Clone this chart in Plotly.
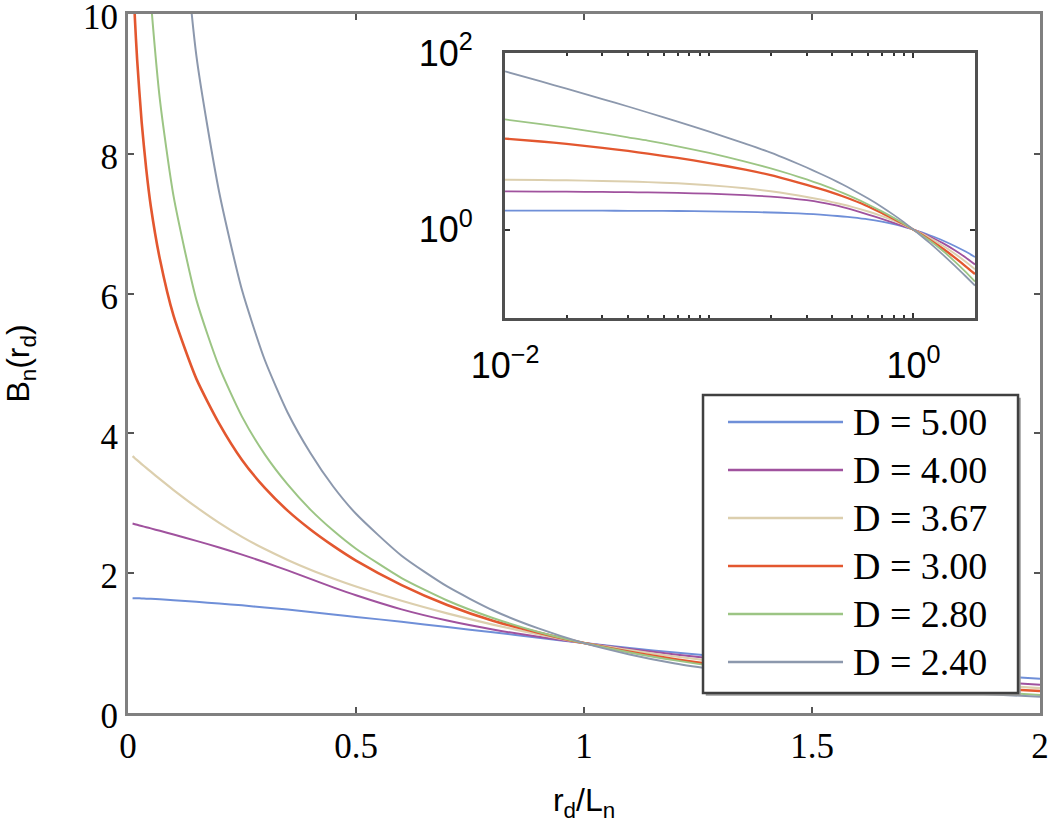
import plotly.graph_objects as go

# r_d / L_n sample points (shared by main plot and log-log inset)
r = [0.01, 0.015, 0.02, 0.03, 0.04, 0.05, 0.07, 0.1, 0.15, 0.2, 0.25, 0.3, 0.35,
     0.4, 0.45, 0.5, 0.6, 0.7, 0.8, 0.9, 1.0, 1.1, 1.2, 1.4, 1.6, 1.8, 2.0]

# B_n(r_d)
b_500 = [1.643, 1.642, 1.641, 1.639, 1.636, 1.633, 1.626, 1.613, 1.59, 1.565, 1.54, 1.51, 1.48,
         1.445, 1.41, 1.375, 1.305, 1.23, 1.155, 1.078, 1.0, 0.93, 0.865, 0.75, 0.65, 0.565, 0.49]
b_400 = [2.71, 2.701, 2.692, 2.675, 2.658, 2.641, 2.606, 2.553, 2.463, 2.368, 2.266, 2.156, 2.04,
         1.918, 1.798, 1.684, 1.482, 1.322, 1.195, 1.09, 1.0, 0.916, 0.838, 0.699, 0.581, 0.484, 0.404]
b_367 = [3.675, 3.645, 3.617, 3.561, 3.506, 3.452, 3.345, 3.19, 2.945, 2.72, 2.52, 2.345, 2.19,
         2.05, 1.925, 1.81, 1.605, 1.425, 1.265, 1.125, 1.0, 0.899, 0.808, 0.653, 0.531, 0.433, 0.356]
b_300 = [10.75, 9.95, 9.35, 8.45, 7.78, 7.25, 6.49, 5.68, 4.78, 4.14, 3.62, 3.22, 2.895,
         2.625, 2.39, 2.18, 1.83, 1.545, 1.32, 1.15, 1.0, 0.875, 0.769, 0.603, 0.479, 0.385, 0.314]
b_280 = [17.7, 15.7, 14.3, 12.4, 11.1, 10.2, 8.77, 7.39, 5.91, 4.95, 4.24, 3.70, 3.27,
         2.91, 2.61, 2.35, 1.93, 1.61, 1.36, 1.16, 1.0, 0.867, 0.753, 0.569, 0.432, 0.332, 0.258]
b_240 = [61.9, 47.6, 39.4, 30.1, 24.8, 21.2, 16.7, 12.9, 9.4, 7.45, 6.05, 5.05, 4.3,
         3.72, 3.24, 2.85, 2.25, 1.81, 1.47, 1.21, 1.0, 0.838, 0.708, 0.516, 0.387, 0.297, 0.233]

labels = ["D = 5.00", "D = 4.00", "D = 3.67", "D = 3.00", "D = 2.80", "D = 2.40"]
series = [b_500, b_400, b_367, b_300, b_280, b_240]
colors = ["#6f8fd8", "#a0529e", "#dccfae", "#e3572f", "#9cc584", "#8c98ad"]
widths = [2, 2, 2.2, 2.6, 2, 2]

fig = go.Figure()

for name, ys, c, w in zip(labels, series, colors, widths):
    fig.add_trace(go.Scatter(x=r, y=ys, mode="lines", name=name,
                             line=dict(color=c, width=w, shape="spline", smoothing=0.6),
                             showlegend=False))
for name, ys, c, w in zip(labels, series, colors, widths):
    fig.add_trace(go.Scatter(x=r, y=ys, mode="lines", name=name,
                             line=dict(color=c, width=w * 0.9, shape="spline", smoothing=0.6),
                             xaxis="x2", yaxis="y2", showlegend=False))

serif = "Liberation Serif"
sans = "Liberation Sans"

fig.update_layout(
    width=1050, height=823,
    margin=dict(l=128, r=10, t=14, b=110),
    paper_bgcolor="white", plot_bgcolor="white",
    font=dict(family=serif, size=32, color="black"),
    xaxis=dict(range=[0, 2], tickvals=[0, 0.5, 1, 1.5, 2],
               ticktext=["0", "0.5", "1", "1.5", "2"], automargin=False,
               ticklabeloverflow="allow",
               showgrid=False, zeroline=False,
               showline=True, linecolor="#808080", linewidth=3, mirror="allticks",
               ticks="inside", ticklen=6, tickcolor="#555", tickwidth=2,
               tickfont=dict(family=serif, size=35),
               title=dict(text="r<sub>d</sub>/L<sub>n</sub>",
                          font=dict(family=sans, size=32), standoff=28)),
    yaxis=dict(range=[0, 10], tickvals=[0, 2, 4, 6, 8, 10], automargin=False,
               ticklabeloverflow="allow", ticklabelshift=3,
               showgrid=False, zeroline=False,
               showline=True, linecolor="#808080", linewidth=3, mirror="allticks",
               ticks="inside", ticklen=6, tickcolor="#555", tickwidth=2,
               tickfont=dict(family=serif, size=35),
               title=dict(text="B<sub>n</sub>(r<sub>d</sub>)",
                          font=dict(family=sans, size=32), standoff=50)),
    xaxis2=dict(type="log", range=[-2, 0.30103], domain=[0.4134, 0.9287], anchor="y2",
                tickvals=[0.01, 1], ticktext=["10<sup>−2</sup>", "10<sup>0</sup>"],
                showgrid=False, zeroline=False, automargin=False,
                showline=True, linecolor="#505050", linewidth=3, mirror="allticks",
                ticks="inside", ticklen=5, tickcolor="#333", tickwidth=2,
                minor=dict(ticks="inside", ticklen=3, tickcolor="#333", dtick="D1"),
                tickfont=dict(family=sans, size=36), ticklabelstandoff=14),
    yaxis2=dict(type="log", range=[-1, 2], domain=[0.5651, 0.9442], anchor="x2",
                tickvals=[1, 100], ticktext=["10<sup>0</sup>", "10<sup>2</sup>"],
                showgrid=False, zeroline=False, automargin=False,
                showline=True, linecolor="#505050", linewidth=3, mirror="allticks",
                ticks="inside", ticklen=5, tickcolor="#333", tickwidth=2,
                tickfont=dict(family=sans, size=36), ticklabelstandoff=22),
)

# legend drawn as a MATLAB-style box with long line samples
box_x0, box_x1, box_y0, box_y1 = 0.6305, 0.9759, 0.0286, 0.4549
line_x0, line_x1, text_x = 0.6579, 0.784, 0.793
row_top, row_step = 0.4163, 0.0687

fig.add_shape(type="rect", xref="paper", yref="paper",
              x0=box_x0 + 0.003, x1=box_x1 + 0.003, y0=box_y0 - 0.004, y1=box_y1 - 0.004,
              line=dict(width=0), fillcolor="#9a9a9a")
fig.add_shape(type="rect", xref="paper", yref="paper",
              x0=box_x0, x1=box_x1, y0=box_y0, y1=box_y1,
              line=dict(color="#404040", width=2.5), fillcolor="white")
for i, (name, c) in enumerate(zip(labels, colors)):
    yy = row_top - i * row_step
    fig.add_shape(type="line", xref="paper", yref="paper",
                  x0=line_x0, x1=line_x1, y0=yy, y1=yy,
                  line=dict(color=c, width=2.5))
    fig.add_annotation(xref="paper", yref="paper", x=text_x, y=yy,
                       text=name, showarrow=False, xanchor="left", yanchor="middle",
                       font=dict(family=serif, size=38, color="black"))

# drop the default 8px page margin so the figure fills the window exactly
fig.write_html("out.html", config={"displayModeBar": False},
               post_script="document.body.style.margin = '0px';")
